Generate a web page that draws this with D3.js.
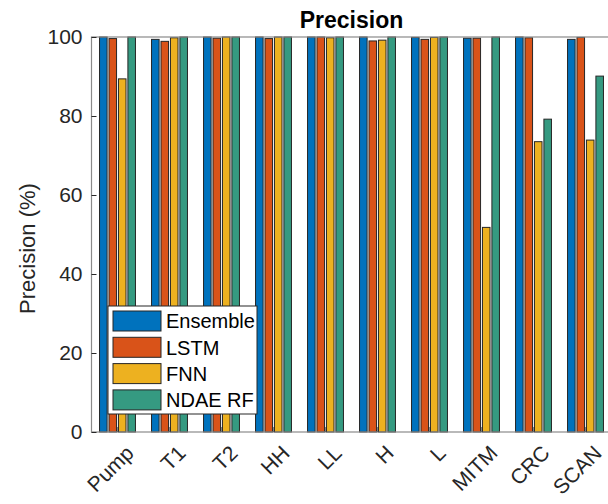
<!DOCTYPE html>
<html>
<head>
<meta charset="utf-8">
<script src="https://cdn.jsdelivr.net/npm/d3@7"></script>
<style>
  body { margin: 0; background: #fff; }
  svg { font-family: "Liberation Sans", Arial, sans-serif; }
</style>
</head>
<body>
<div id="graph"></div>
<script>
// data
let categories = ['Pump', 'T1', 'T2', 'HH', 'LL', 'H', 'L', 'MITM', 'CRC', 'SCAN']
let seriesNames = ['Ensemble', 'LSTM', 'FNN', 'NDAE RF']
let ensemble = [100, 99.4, 100, 100, 100, 100, 99.9, 99.7, 100, 99.4]
let lstm = [99.6, 98.9, 99.7, 99.6, 100, 99.0, 99.4, 99.7, 99.8, 99.9]
let fnn = [89.4, 99.8, 100, 100, 99.8, 99.2, 99.9, 51.8, 73.5, 73.9]
let ndae = [100, 100, 100, 100, 100, 100, 100, 100, 79.2, 90.1]
let yTicks = [0, 20, 40, 60, 80, 100]
let colors = ['#0072BD', '#D95319', '#EDB120', '#359A81']

let allSeries = [ensemble, lstm, fnn, ndae]

let width = 608, height = 504
let margin = { top: 37, right: -3.5, bottom: 72, left: 91.5 }

let svg = d3.select('#graph')
    .append('svg')
    .attr('width', width)
    .attr('height', height)

let x = d3.scaleLinear()
    .domain([0.5, categories.length + 0.5])
    .range([margin.left, width - margin.right])

let y = d3.scaleLinear()
    .domain([0, 100])
    .range([height - margin.bottom, margin.top])

// matlab grouped bar geometry
let nb = seriesNames.length
let groupWidth = Math.min(0.8, nb / (nb + 1.5))
let step = groupWidth / nb
let barW = step * 0.8

let bars = svg.append('g')
allSeries.forEach((vals, s) => {
    bars.selectAll('rect.s' + s)
        .data(vals)
        .join('rect')
        .attr('class', 's' + s)
        .attr('x', (d, i) => x(i + 1 + (s - (nb - 1) / 2) * step - barW / 2))
        .attr('width', x(barW) - x(0))
        .attr('y', d => y(d))
        .attr('height', d => y(0) - y(d))
        .attr('fill', colors[s])
        .attr('stroke', '#262626')
        .attr('stroke-width', 1)
})

// axes box
let x0 = x.range()[0], x1 = x.range()[1]
let y0 = y.range()[0], y1 = y.range()[1]
svg.append('rect')
    .attr('x', x0).attr('y', y1)
    .attr('width', x1 - x0).attr('height', y0 - y1)
    .attr('fill', 'none')
    .attr('stroke', '#8a8a8a')
    .attr('stroke-width', 1.2)

// y axis (ticks inside)
let yAxis = d3.axisLeft(y).tickValues(yTicks).tickSize(-5).tickPadding(9)
let gy = svg.append('g')
    .attr('transform', `translate(${x0},0)`)
    .call(yAxis)
gy.select('.domain').remove()
gy.selectAll('line').attr('stroke', '#262626')
gy.selectAll('text')
    .attr('font-size', 21)
    .attr('fill', '#262626')

// x axis
let gx = svg.append('g')
    .attr('transform', `translate(0,${y0})`)
    .call(d3.axisBottom(x).tickValues(d3.range(1, categories.length + 1)).tickSize(-5).tickFormat(''))
gx.select('.domain').remove()
gx.selectAll('line').attr('stroke', '#262626')

svg.append('g')
    .selectAll('text')
    .data(categories)
    .join('text')
    .attr('transform', (d, i) => `translate(${x(i + 1) + 7},${y0 + 12}) rotate(-45)`)
    .attr('text-anchor', 'end')
    .attr('dy', '0.7em')
    .attr('font-size', 21)
    .attr('fill', '#262626')
    .text(d => d)

// y label
svg.append('text')
    .attr('transform', `translate(35,${(y0 + y1) / 2 + 14}) rotate(-90)`)
    .attr('text-anchor', 'middle')
    .attr('font-size', 22)
    .attr('fill', '#262626')
    .text('Precision (%)')

// title
svg.append('text')
    .attr('x', (x0 + x1) / 2)
    .attr('y', 28)
    .attr('text-anchor', 'middle')
    .attr('font-size', 23)
    .attr('font-weight', 'bold')
    .attr('fill', '#000')
    .text('Precision')

// legend
let legend = svg.append('g').attr('transform', 'translate(108,306)')
legend.append('rect')
    .attr('width', 149).attr('height', 108)
    .attr('fill', '#fff')
    .attr('stroke', '#262626')
    .attr('stroke-width', 1)
let items = legend.selectAll('g.item')
    .data(seriesNames)
    .join('g')
    .attr('transform', (d, i) => `translate(5,${15 + i * 26.3})`)
items.append('rect')
    .attr('x', 0).attr('y', -10)
    .attr('width', 48).attr('height', 20)
    .attr('fill', (d, i) => colors[i])
    .attr('stroke', '#262626')
items.append('text')
    .attr('x', 53)
    .attr('dy', '0.36em')
    .attr('font-size', 20)
    .attr('fill', '#000')
    .text(d => d)
</script>
</body>
</html>
